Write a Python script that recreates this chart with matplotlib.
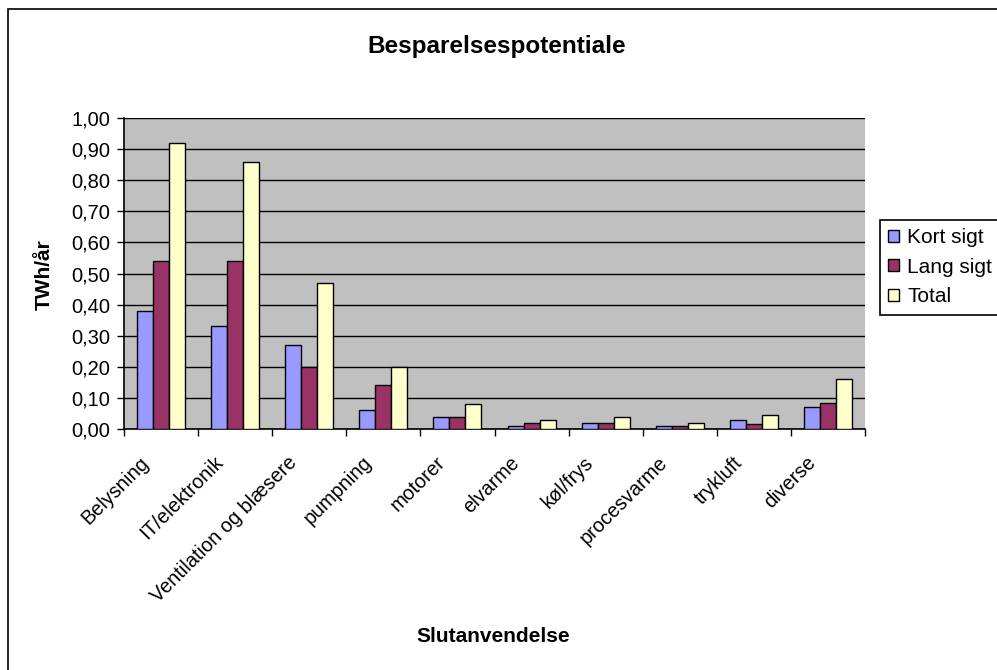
import numpy as np
import matplotlib.pyplot as plt
from matplotlib.patches import Rectangle
from matplotlib.ticker import FuncFormatter

categories = ["Belysning", "IT/elektronik", "Ventilation og blæsere", "pumpning",
              "motorer", "elvarme", "køl/frys", "procesvarme", "trykluft", "diverse"]
kort_sigt = [0.38, 0.33, 0.27, 0.06, 0.04, 0.01, 0.02, 0.01, 0.03, 0.07]
lang_sigt = [0.54, 0.54, 0.20, 0.14, 0.04, 0.02, 0.02, 0.01, 0.015, 0.085]
total = [0.92, 0.86, 0.47, 0.20, 0.08, 0.03, 0.04, 0.02, 0.045, 0.16]

plt.rcParams['font.family'] = ['Liberation Sans', 'DejaVu Sans']

fig = plt.figure(figsize=(9.97, 6.70), dpi=100)
ax = fig.add_axes([124 / 997, 1 - 429 / 670, 741 / 997, 311 / 670])

# ydre ramme om diagrammet (højre/nederste kant ligger uden for billedet)
fig.patches.append(Rectangle((8 / 997, -0.01), 1.0, 1 - 9 / 670 + 0.01,
                             transform=fig.transFigure, fill=False,
                             edgecolor="black", linewidth=1.2))

x = np.arange(len(categories))
w = 0.216
ax.bar(x - w, kort_sigt, w, color="#9999FF", edgecolor="black", linewidth=1, label="Kort sigt", zorder=3)
ax.bar(x, lang_sigt, w, color="#993366", edgecolor="black", linewidth=1, label="Lang sigt", zorder=3)
ax.bar(x + w, total, w, color="#FFFFCC", edgecolor="black", linewidth=1, label="Total", zorder=3)

ax.set_facecolor("#C0C0C0")
ax.set_xlim(-0.5, len(categories) - 0.5)
ax.set_ylim(0, 1.0)
ax.set_yticks(np.arange(0, 1.01, 0.1))
ax.yaxis.set_major_formatter(FuncFormatter(lambda v, p: f"{v:.2f}".replace(".", ",")))
ax.grid(axis="y", color="black", linewidth=1, zorder=1)
ax.set_axisbelow(True)

# kategorigrænser som store ticks, navne som usynlige små ticks (lidt forskudt til venstre)
ax.set_xticks(np.arange(-0.5, len(categories), 1.0))
ax.set_xticklabels([])
ax.set_xticks(x - 0.2, minor=True)
ax.set_xticklabels(categories, minor=True, rotation=45, ha="right", va="center",
                   rotation_mode="anchor", fontsize=14.3)
ax.tick_params(axis="x", which="minor", length=0, pad=22)
ax.tick_params(axis="x", which="major", length=5, direction="out", width=1)
ax.tick_params(axis="y", length=5, width=1, labelsize=14.5, pad=5)

for side in ["top", "right"]:
    ax.spines[side].set_visible(False)
ax.spines["left"].set_linewidth(1.2)
ax.spines["bottom"].set_linewidth(1.2)

fig.text(44 / 997, 1 - 275 / 670, "TWh/år", rotation=90, ha="center", va="center",
         fontsize=15, fontweight="bold")
fig.text(493 / 997, 1 - 637 / 670, "Slutanvendelse", ha="center", va="center",
         fontsize=15, fontweight="bold")
fig.text(497 / 997, 1 - 47 / 670, "Besparelsespotentiale", ha="center", va="center",
         fontsize=17.5, fontweight="bold")

leg = ax.legend(loc="upper left", bbox_to_anchor=(880 / 997, 1 - 220 / 670),
                bbox_transform=fig.transFigure, borderaxespad=0, fancybox=False,
                edgecolor="black", fontsize=15, handlelength=0.5, handleheight=0.5,
                handletextpad=0.4, borderpad=0.4, labelspacing=0.5, framealpha=1)
leg.get_frame().set_linewidth(1.2)

fig.savefig("out.png", dpi=100)
